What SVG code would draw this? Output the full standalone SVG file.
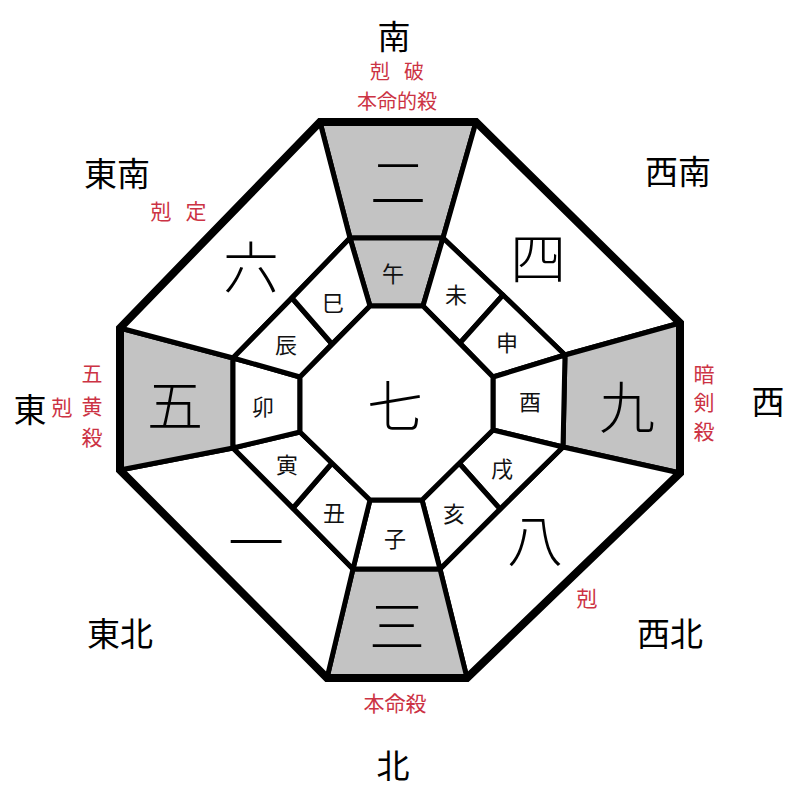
<svg xmlns="http://www.w3.org/2000/svg" width="800" height="800" viewBox="0 0 800 800">
<style>
text{font-family:"Noto Sans CJK JP","Noto Sans CJK SC",sans-serif;text-anchor:middle;dominant-baseline:central}
.cell{stroke:#000;stroke-width:5;stroke-linejoin:round}
.g{fill:#c3c3c3}
.w{fill:#fff}
.big{font-size:56px;font-weight:300;fill:#000}
.br{font-size:22px;fill:#111}
.dir{font-size:33px;fill:#000}
.red{font-size:21px;fill:#cc3344}
.rs{font-size:20px;fill:#cc3344}
</style>
<rect width="800" height="800" fill="#fff"/>
<g id="outer-cells">
<g id="n2"><polygon class="cell g" points="320,122 476,122 443,238 350,238"/><text class="big" x="398" y="178">二</text></g>
<g id="n4"><polygon class="cell w" points="476,122 680,323 565,355 443,238"/><text class="big" x="538" y="254">四</text></g>
<g id="n9"><polygon class="cell g" points="680,323 680,473 563,447 565,355"/><text class="big" x="627" y="403">九</text></g>
<g id="n8"><polygon class="cell w" points="680,473 467,678 440,569 563,447"/><text class="big" x="535" y="536">八</text></g>
<g id="n3"><polygon class="cell g" points="467,678 327,678 353,569 440,569"/><text class="big" x="397" y="622">三</text></g>
<g id="n1"><polygon class="cell w" points="327,678 120,470 233,448 353,569"/><text class="big" x="256" y="538">一</text></g>
<g id="n5"><polygon class="cell g" points="120,470 120,328 233,358 233,448"/><text class="big" x="175" y="401">五</text></g>
<g id="n6"><polygon class="cell w" points="120,328 320,122 350,238 233,358"/><text class="big" x="251" y="263">六</text></g>
</g>
<g id="branches">
<g id="uma"><polygon class="cell g" points="350,238 443,238 423,306 370,306"/><text class="br" x="393" y="272" fill="#333">午</text></g>
<g id="hitsuji"><polygon class="cell w" points="443,238 503,295 460,343 423,306"/><text class="br" x="456" y="293">未</text></g>
<g id="saru"><polygon class="cell w" points="503,295 565,355 493,377 460,343"/><text class="br" x="507" y="341">申</text></g>
<g id="tori"><polygon class="cell w" points="565,355 563,447 493,430 493,377"/><text class="br" x="530" y="400">酉</text></g>
<g id="inu"><polygon class="cell w" points="563,447 500,509 459,463 493,430"/><text class="br" x="502" y="467">戌</text></g>
<g id="i"><polygon class="cell w" points="500,509 440,569 422,500 459,463"/><text class="br" x="454" y="512">亥</text></g>
<g id="ne"><polygon class="cell w" points="440,569 353,569 370,500 422,500"/><text class="br" x="395" y="537">子</text></g>
<g id="ushi"><polygon class="cell w" points="353,569 293,508 332,463 370,500"/><text class="br" x="334" y="511">丑</text></g>
<g id="tora"><polygon class="cell w" points="293,508 233,448 300,432 332,463"/><text class="br" x="287" y="463">寅</text></g>
<g id="u"><polygon class="cell w" points="233,448 233,358 300,377 300,432"/><text class="br" x="263" y="405">卯</text></g>
<g id="tatsu"><polygon class="cell w" points="233,358 292,298 332,344 300,377"/><text class="br" x="286" y="343">辰</text></g>
<g id="mi"><polygon class="cell w" points="292,298 350,238 370,306 332,344"/><text class="br" x="333" y="301">巳</text></g>
</g>
<g id="center"><polygon class="cell w" points="370,306 423,306 493,377 493,430 422,500 370,500 300,432 300,377"/><text class="big" x="395" y="402">七</text></g>
<g id="frame"><polygon points="320,122 476,122 680,323 680,473 467,678 327,678 120,470 120,328" fill="none" stroke="#000" stroke-width="8" stroke-linejoin="miter"/></g>
<g id="connectors"></g>
<g id="labels">
<text class="dir" x="394" y="35">南</text>
<text class="rs" x="380" y="70">剋</text><text class="rs" x="414" y="70">破</text>
<text class="rs" x="397" y="100">本命的殺</text>
<text class="dir" x="117" y="172">東南</text>
<text class="red" x="161" y="210">剋</text><text class="red" x="196" y="210">定</text>
<text class="dir" x="678" y="170">西南</text>
<text class="dir" x="30" y="408">東</text>
<text class="red" x="62" y="406">剋</text>
<text class="red" x="92" y="372">五</text><text class="red" x="92" y="405">黄</text><text class="red" x="92" y="436">殺</text>
<text class="dir" x="768" y="400">西</text>
<text class="red" x="704" y="373">暗</text><text class="red" x="704" y="401">剣</text><text class="red" x="704" y="430">殺</text>
<text class="dir" x="120" y="632">東北</text>
<text class="dir" x="670" y="632">西北</text>
<text class="red" x="587" y="597">剋</text>
<text class="red" x="395" y="702">本命殺</text>
<text class="dir" x="393" y="764">北</text>
</g>
</svg>
